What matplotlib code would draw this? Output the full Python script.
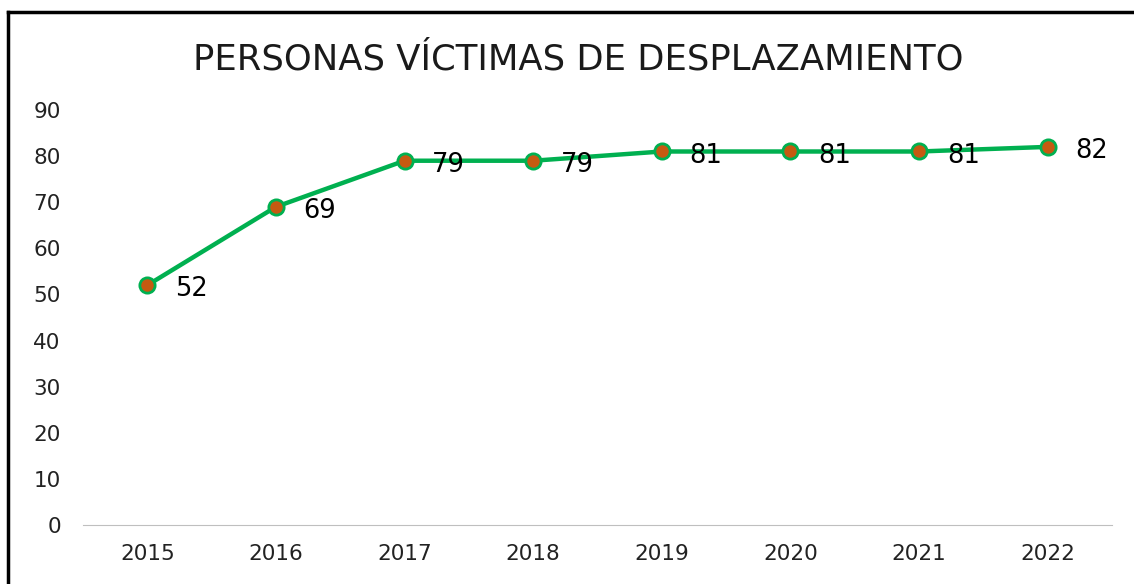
import numpy as np
import matplotlib
matplotlib.use("Agg")
import matplotlib.pyplot as plt
from matplotlib.lines import Line2D

years = ["2015", "2016", "2017", "2018", "2019", "2020", "2021", "2022"]
personas = [52, 69, 79, 79, 81, 81, 81, 82]
yticks = [0, 10, 20, 30, 40, 50, 60, 70, 80, 90]

W, H = 1134, 584
fig = plt.figure(figsize=(W / 100, H / 100), dpi=100)
ax = fig.add_axes([83 / W, 1 - 525 / H, (1112 - 83) / W, (525 - 110) / H])

x = np.arange(len(years))
ax.plot(x, personas, color="#00B050", lw=3.2, marker="o", ms=11,
        mfc="#C55A11", mec="#00B050", mew=2, zorder=3, solid_capstyle="round")

for xi, v in zip(x, personas):
    ax.annotate(str(v), (xi, v), xytext=(20, -3), textcoords="offset points",
                ha="left", va="center", fontsize=18.5, family="DejaVu Sans",
                color="black")

ax.set_xlim(-0.5, len(years) - 0.5)
ax.set_ylim(0, 90)
ax.set_xticks(x)
ax.set_xticklabels(years)
ax.set_yticks(yticks)
ax.tick_params(axis="both", length=0, labelsize=15.5, colors="#222222")
ax.tick_params(axis="y", pad=16)
ax.tick_params(axis="x", pad=14)
for lab in ax.get_xticklabels() + ax.get_yticklabels():
    lab.set_family("DejaVu Sans")

for side in ["top", "right", "left"]:
    ax.spines[side].set_visible(False)
ax.spines["bottom"].set_color("#BFBFBF")
ax.spines["bottom"].set_linewidth(0.8)

fig.text(578 / W, 1 - 59 / H, "PERSONAS VÍCTIMAS DE DESPLAZAMIENTO",
         ha="center", va="center", fontsize=25.5, family="DejaVu Sans",
         color="#1a1a1a")

# chart frame (top and left edges)
fig.add_artist(Line2D([8 / W, 1], [1 - 12 / H, 1 - 12 / H],
                      transform=fig.transFigure, color="black", lw=2.5))
fig.add_artist(Line2D([8 / W, 8 / W], [0, 1 - 12 / H],
                      transform=fig.transFigure, color="black", lw=2.5))

fig.savefig("out.png", dpi=100)
